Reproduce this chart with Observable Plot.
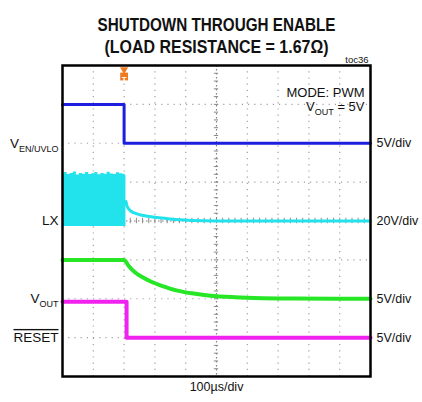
<!DOCTYPE html>
<html>
<head>
<meta charset="utf-8">
<script src="https://cdn.jsdelivr.net/npm/d3@7"></script>
<script src="https://cdn.jsdelivr.net/npm/@observablehq/plot@0.6"></script>
<style>
  body { margin: 0; background: #fff; }
  svg { font-family: "Liberation Sans", Arial, Helvetica, sans-serif; }
</style>
</head>
<body>
<div id="chart"></div>
<script>
// Scope screen: 10 horizontal divisions of 100 µs, 8 vertical divisions
const timeDomain = [0, 1000];
const divDomain = [0, 8];
const vGrid = [100, 200, 300, 400, 600, 700, 800, 900];
const hGrid = [1, 2, 3, 5, 6, 7];

// Channels, top to bottom
const channelNames = ["V_EN/UVLO", "LX", "V_OUT", "RESET"];
const channelScales = ["5V/div", "20V/div", "5V/div", "5V/div"];
const voltsPerDiv = [5, 20, 5, 5];
const groundDiv = [6, 4, 2, 1];
const traceColors = ["#1c1ee0", "#22e2ec", "#26e626", "#f022f0"];

// EN/UVLO pulled low at the trigger point
const enTime = [0, 200, 200, 1000];
const enVolts = [5, 5, 0, 0];

// LX switching burst before shutdown (envelope of the switching node)
const lxBurstTime = [0, 10, 20, 30, 40, 50, 60, 70, 80, 90, 100, 110, 120, 130, 140, 150, 160, 170, 180, 190, 200, 206];
const lxBurstTop = [23.8, 24.9, 23.9, 24.4, 25.2, 23.7, 24.5, 24.1, 25.0, 23.9, 24.3, 24.9, 23.8, 24.5, 24.0, 25.1, 24.2, 23.9, 24.8, 24.3, 24.0, 23.5];
const lxBurstBottom = -2.8;

// LX decay after the switching stops
const lxTailTime = [206, 210, 215, 221, 235, 263, 300, 341, 380, 420, 500, 1000];
const lxTailVolts = [10, 7.5, 6.2, 5.2, 4.0, 2.8, 1.9, 1.2, 0.6, 0.25, 0, 0];

// Output voltage discharging through the load
const voutTime = [0, 200, 215, 235, 263, 290, 320, 373, 420, 480, 560, 650, 750, 1000];
const voutVolts = [5, 5, 4.2, 3.4, 2.7, 2.15, 1.7, 1.05, 0.7, 0.4, 0.2, 0.08, 0.02, 0];

// RESET output goes low
const resetTime = [0, 208, 208, 1000];
const resetVolts = [4.6, 4.6, 0, 0];

const traces = [
  {time: enTime, volts: enVolts, ch: 0, width: 3},
  {time: lxTailTime, volts: lxTailVolts, ch: 1, width: 3},
  {time: voutTime, volts: voutVolts, ch: 2, width: 4},
  {time: resetTime, volts: resetVolts, ch: 3, width: 4}
];

const toDiv = (v, ch) => groundDiv[ch] + v / voltsPerDiv[ch];
const traceRows = traces.map(t => t.time.map((x, i) => ({t: x, y: toDiv(t.volts[i], t.ch)})));
const burstRows = lxBurstTime.map((x, i) => ({t: x, y1: toDiv(lxBurstBottom, 1), y2: toDiv(lxBurstTop[i], 1)}));

// Minor ticks on the centre crosshair
const minorT = d3.range(0, 1001, 20);
const minorDiv = d3.range(0, 8.01, 0.2);

const labelRows = channelNames.map((name, i) => ({name, scale: channelScales[i], y: groundDiv[i]}));

const chart = Plot.plot({
  width: 422,
  height: 402,
  marginLeft: 62,
  marginRight: 52,
  marginTop: 65,
  marginBottom: 26,
  x: {domain: timeDomain, axis: null},
  y: {domain: divDomain, axis: null},
  marks: [
    // Graticule
    Plot.ruleX(vGrid, {stroke: "#a0a0a0", strokeWidth: 1.2, strokeDasharray: "1.2,5"}),
    Plot.ruleY(hGrid, {stroke: "#a0a0a0", strokeWidth: 1.2, strokeDasharray: "1.2,5"}),
    Plot.ruleX([500], {stroke: "#808080", strokeWidth: 1.2, strokeDasharray: "1.5,2.5"}),
    Plot.ruleY([4], {stroke: "#808080", strokeWidth: 1.2, strokeDasharray: "1.5,2.5"}),
    Plot.ruleY(minorDiv, {y: d => d, x1: 493, x2: 507, stroke: "#8a8a8a", strokeWidth: 1}),
    Plot.ruleX(minorT, {x: d => d, y1: 3.93, y2: 4.07, stroke: "#8a8a8a", strokeWidth: 1}),

    // LX switching burst
    Plot.areaY(burstRows, {x: "t", y1: "y1", y2: "y2", fill: traceColors[1], curve: "step"}),
    // Traces
    ...traceRows.map((rows, i) => Plot.line(rows, {
      x: "t", y: "y", stroke: traceColors[traces[i].ch], strokeWidth: traces[i].width,
      curve: traces[i].ch === 0 || traces[i].ch === 3 ? "linear" : "monotone-x"
    })),

    Plot.frame({stroke: "#000", strokeWidth: 2.5}),

    // Trigger position marker
    Plot.dot([200], {x: d => d, frameAnchor: "top", dy: 4, symbol: "triangle", r: 3, fill: "#f07a22", rotate: 180}),
    Plot.dot([200], {x: d => d, frameAnchor: "top", dy: 11, symbol: "square", r: 4.4, fill: "#f07a22"}),
    Plot.text(["T"], {x: () => 200, frameAnchor: "top", dy: 11, fill: "#fff", fontSize: 8, fontWeight: "bold"}),

    // Channel names and volts/div
    Plot.text(labelRows, {y: "y", text: "name", frameAnchor: "left", dx: -4, textAnchor: "end", fontSize: 13.5, fill: "#111"}),
    Plot.text(labelRows, {y: "y", text: "scale", frameAnchor: "right", dx: 6, textAnchor: "start", fontSize: 12.5, fill: "#111"}),

    // Annotations
    Plot.text(["MODE: PWM"], {frameAnchor: "top-right", dx: -6, dy: 22, textAnchor: "end", fontSize: 13, fill: "#111"}),
    Plot.text(["V_OUT = 5V"], {frameAnchor: "top-right", dx: -6, dy: 36, textAnchor: "end", fontSize: 13, fill: "#111"}),
    Plot.text(["toc36"], {frameAnchor: "top-right", dx: -2, dy: -9, textAnchor: "end", fontSize: 9.5, fill: "#111"}),
    Plot.text(["SHUTDOWN THROUGH ENABLE"], {frameAnchor: "top", dy: -47, fontSize: 17.5, fontWeight: "bold", fill: "#111"}),
    Plot.text(["(LOAD RESISTANCE = 1.67Ω)"], {frameAnchor: "top", dy: -25, fontSize: 17.5, fontWeight: "bold", fill: "#111"}),
    Plot.text(["100µs/div"], {frameAnchor: "bottom", dy: 14, fontSize: 12.5, fill: "#111"})
  ]
});

// Subscripts, overline and condensed title lettering
const svgNS = "http://www.w3.org/2000/svg";
function setRich(el, parts) {
  el.textContent = "";
  let shifted = 0;
  for (const p of parts) {
    const ts = document.createElementNS(svgNS, "tspan");
    ts.textContent = p.text;
    const want = p.sub ? 4 : 0;
    if (want !== shifted) { ts.setAttribute("dy", want - shifted); shifted = want; }
    if (p.sub) ts.setAttribute("font-size", "9");
    el.appendChild(ts);
  }
}
chart.querySelectorAll("text").forEach(el => {
  const s = el.textContent;
  if (s === "V_EN/UVLO") setRich(el, [{text: "V"}, {text: "EN/UVLO", sub: true}]);
  else if (s === "V_OUT") setRich(el, [{text: "V"}, {text: "OUT", sub: true}]);
  else if (s === "V_OUT = 5V") setRich(el, [{text: "V"}, {text: "OUT", sub: true}, {text: " = 5V"}]);
  else if (s === "RESET") el.style.textDecoration = "overline";
  else if (s === "SHUTDOWN THROUGH ENABLE") {
    el.setAttribute("textLength", 238); el.setAttribute("lengthAdjust", "spacingAndGlyphs");
  } else if (s === "(LOAD RESISTANCE = 1.67Ω)") {
    el.setAttribute("textLength", 224); el.setAttribute("lengthAdjust", "spacingAndGlyphs");
  }
});

document.getElementById("chart").appendChild(chart);
</script>
</body>
</html>
